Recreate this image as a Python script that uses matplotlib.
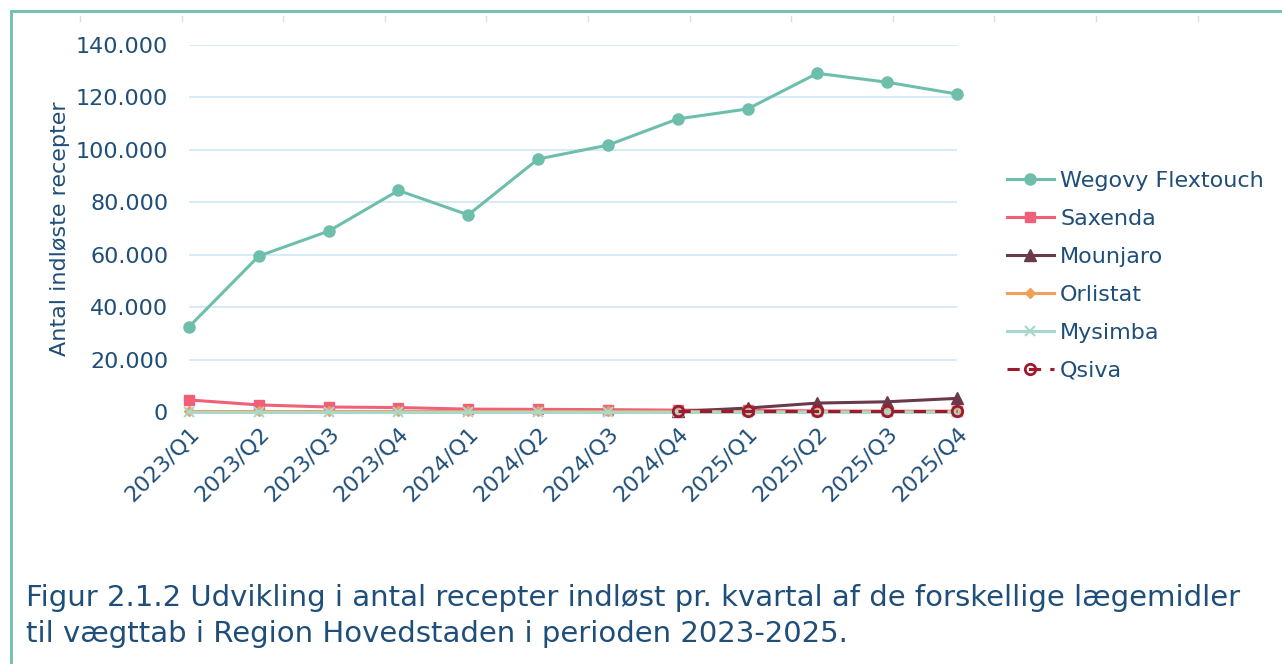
import matplotlib
matplotlib.use("Agg")
import matplotlib.pyplot as plt
from matplotlib.lines import Line2D
from matplotlib.patches import Rectangle
from matplotlib.ticker import FuncFormatter

quarters = ["2023/Q1", "2023/Q2", "2023/Q3", "2023/Q4", "2024/Q1", "2024/Q2",
            "2024/Q3", "2024/Q4", "2025/Q1", "2025/Q2", "2025/Q3", "2025/Q4"]
wegovy = [32500, 59500, 69000, 84500, 75200, 96500, 101800, 111800, 115600, 129200, 125800, 121300]
saxenda = [4600, 2700, 1900, 1700, 1100, 1000, 900, 700, 700, 400, 300, 300]
mounjaro = [None, None, None, None, None, None, None, 200, 1500, 3400, 3900, 5200]
orlistat = [300, 300, 300, 300, 300, 300, 300, 300, 300, 300, 300, 300]
mysimba = [100, 100, 100, 100, 100, 100, 100, 100, 100, 100, 100, 100]
qsiva = [None, None, None, None, None, None, None, 200, 200, 200, 200, 200]
yticks = [0, 20000, 40000, 60000, 80000, 100000, 120000, 140000]
ylabel = "Antal indløste recepter"
caption = ("Figur 2.1.2 Udvikling i antal recepter indløst pr. kvartal af de forskellige lægemidler\n"
           "til vægttab i Region Hovedstaden i perioden 2023-2025.")

TXT = "#1f4e79"
W, H = 1282, 664
fig = plt.figure(figsize=(W / 100, H / 100), dpi=100)
fig.patch.set_facecolor("white")

ax = fig.add_axes([189 / W, 1 - 412 / H, (957 - 189) / W, (412 - 45) / H])
x = list(range(len(quarters)))

series = [
    ("Wegovy Flextouch", wegovy, dict(color="#6dbfab", marker="o", ms=8, lw=2.2, ls="-")),
    ("Saxenda", saxenda, dict(color="#f06078", marker="s", ms=7.5, lw=2.2, ls="-")),
    ("Mounjaro", mounjaro, dict(color="#6b3a4a", marker="^", ms=8, lw=2.2, ls="-")),
    ("Orlistat", orlistat, dict(color="#f0a05a", marker="D", ms=5, lw=2.2, ls="-")),
    ("Mysimba", mysimba, dict(color="#a8d8cc", marker="x", ms=7, lw=2.2, ls="-", mew=1.5)),
    ("Qsiva", qsiva, dict(color="#a0192e", marker="o", ms=7.5, lw=2.2, ls=(0, (4, 3)),
                          mfc="none", mew=2)),
]
handles = []
for i, (name, vals, st) in enumerate(series):
    xs = [xi for xi, v in zip(x, vals) if v is not None]
    ys = [v for v in vals if v is not None]
    ln, = ax.plot(xs, ys, label=name, clip_on=False, zorder=3 + i, **st)
    handles.append(ln)

ax.set_xlim(0, len(quarters) - 1)
ax.set_ylim(0, 140000)
ax.set_yticks(yticks)
ax.yaxis.set_major_formatter(FuncFormatter(lambda v, p: f"{int(v):,}".replace(",", ".")))
ax.set_xticks(x)
ax.set_xticklabels(quarters, rotation=45, ha="right", rotation_mode="anchor")
ax.tick_params(axis="both", length=0, labelsize=16, colors=TXT)
ax.tick_params(axis="y", pad=15)
ax.tick_params(axis="x", pad=8)
for s in ax.spines.values():
    s.set_visible(False)
ax.grid(axis="y", color="#cfe6f7", lw=1.2)
ax.set_axisbelow(True)
ax.set_ylabel(ylabel, fontsize=16, color=TXT, labelpad=4)

leg = fig.legend(handles=handles, loc="upper left", bbox_to_anchor=(998 / W, 1 - 162 / H),
                 frameon=False, fontsize=16, labelcolor=TXT, handlelength=2.1,
                 handletextpad=0.3, labelspacing=0.81, borderaxespad=0)

fig.text(26 / W, 1 - 616 / H, caption, fontsize=21, color=TXT, ha="left", va="center",
         linespacing=1.38)

# frame
fig.patches.append(Rectangle((10.5 / W, -0.05), 1.2, 1 - 11 / H + 0.05, transform=fig.transFigure,
                             fill=False, edgecolor="#6bbfb0", lw=2, zorder=0))
for k in range(12):
    xp = (80 + 101.6 * k) / W
    fig.lines.append(Line2D([xp, xp], [1 - 16 / H, 1 - 21 / H], transform=fig.transFigure,
                            color="#dddddd", lw=1))

fig.savefig("out.png", dpi=100)
